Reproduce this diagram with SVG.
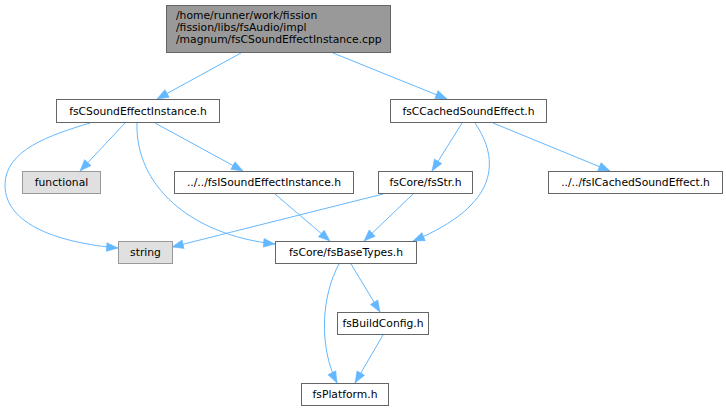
<svg xmlns="http://www.w3.org/2000/svg" width="726" height="411" viewBox="0 0 726 411">
<style>
.n rect{fill:#ffffff;stroke:#666666;stroke-width:1}
.g rect{fill:#e0e0e0;stroke:#999999;stroke-width:1}
.r rect{fill:#999999;stroke:#666666;stroke-width:1}
text{font-family:"DejaVu Sans",sans-serif;font-size:10.75px;fill:#000000}
.c{text-anchor:middle}
#edges path{fill:none;stroke:#63b8ff;stroke-width:1;marker-end:url(#ah)}
</style>
<defs>
<marker id="ah" markerUnits="userSpaceOnUse" markerWidth="13" markerHeight="10" refX="12" refY="5" orient="auto">
<path d="M0.5,0.6 L12,5 L0.5,9.4 z" fill="#63b8ff" stroke="#63b8ff" stroke-width="0.5"/>
</marker>
</defs>
<rect width="726" height="411" fill="#ffffff"/>
<g id="edges">
<path d="M241,53 L157,99"/>
<path d="M333,53 L447,99"/>
<path d="M90,123 C50,135 5,150 5,185 C5,225 60,243 118,248"/>
<path d="M125,123 L80,171"/>
<path d="M137,123 C135,185 190,235 275,244"/>
<path d="M155,123 L243,171"/>
<path d="M275,194 L330,241"/>
<path d="M383,194 L172,247"/>
<path d="M413,194 L364,241"/>
<path d="M462,123 L432,171"/>
<path d="M475,123 C500,160 500,205 413,241"/>
<path d="M493,123 L610,171"/>
<path d="M351,264 L380,312"/>
<path d="M339,264 C322,295 318,345 337,383"/>
<path d="M383,335 L355,383"/>
</g>
<g id="root" class="r">
<rect x="166.5" y="5.5" width="224" height="47"/>
<text x="176" y="19">/home/runner/work/fission</text>
<text x="176" y="31">/fission/libs/fsAudio/impl</text>
<text x="176" y="43">/magnum/fsCSoundEffectInstance.cpp</text>
</g>
<g id="fsCSoundEffectInstance" class="n">
<rect x="56.5" y="99.5" width="163" height="23"/>
<text class="c" x="138" y="115">fsCSoundEffectInstance.h</text>
</g>
<g id="fsCCachedSoundEffect" class="n">
<rect x="390.5" y="99.5" width="156" height="23"/>
<text class="c" x="468.5" y="115">fsCCachedSoundEffect.h</text>
</g>
<g id="functional" class="g">
<rect x="22.5" y="171.5" width="78" height="22"/>
<text class="c" x="61.5" y="186">functional</text>
</g>
<g id="fsISoundEffectInstance" class="n">
<rect x="174.5" y="171.5" width="179" height="22"/>
<text class="c" x="264" y="186">../../fsISoundEffectInstance.h</text>
</g>
<g id="fsStr" class="n">
<rect x="378.5" y="171.5" width="94" height="22"/>
<text class="c" x="425.5" y="186">fsCore/fsStr.h</text>
</g>
<g id="fsICachedSoundEffect" class="n">
<rect x="548.5" y="171.5" width="174" height="22"/>
<text class="c" x="635.5" y="186">../../fsICachedSoundEffect.h</text>
</g>
<g id="string" class="g">
<rect x="118.5" y="241.5" width="54" height="22"/>
<text class="c" x="145.5" y="256">string</text>
</g>
<g id="fsBaseTypes" class="n">
<rect x="275.5" y="241.5" width="141" height="22"/>
<text class="c" x="346" y="256">fsCore/fsBaseTypes.h</text>
</g>
<g id="fsBuildConfig" class="n">
<rect x="337.5" y="312.5" width="91" height="22"/>
<text class="c" x="383" y="327">fsBuildConfig.h</text>
</g>
<g id="fsPlatform" class="n">
<rect x="301.5" y="383.5" width="87" height="22"/>
<text class="c" x="345" y="398">fsPlatform.h</text>
</g>
</svg>
